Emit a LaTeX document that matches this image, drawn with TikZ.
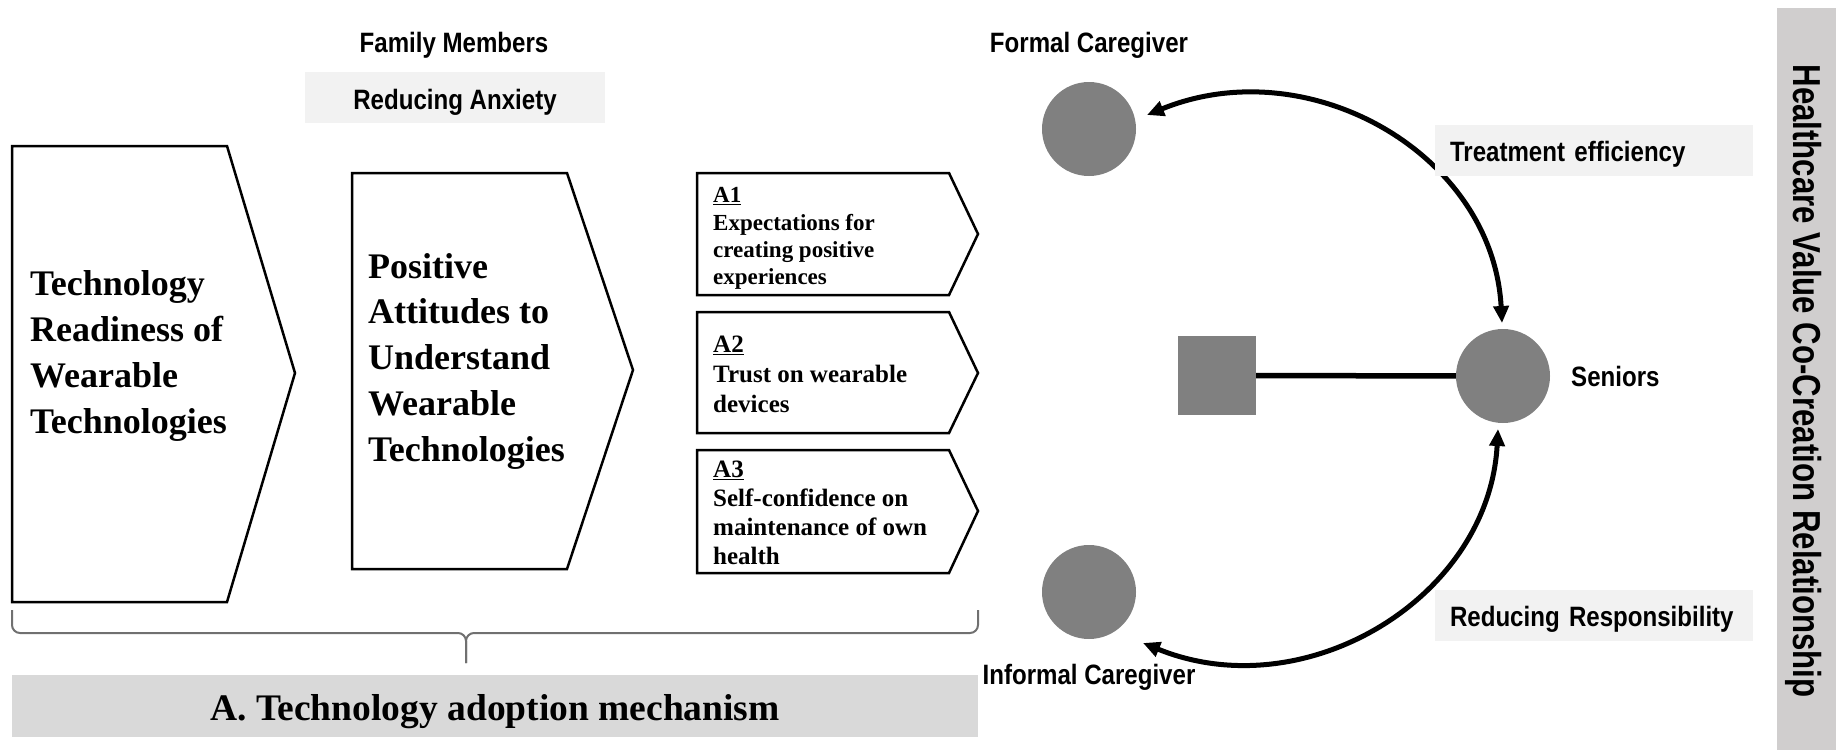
\documentclass[tikz,border=0pt]{standalone}
\usepackage{fontspec}
\setmainfont{Liberation Serif}
\newfontfamily\labelfont[FakeStretch=0.86]{Liberation Sans}
\newfontfamily\barfont[FakeStretch=0.8]{Liberation Sans}
\usetikzlibrary{arrows.meta}
\definecolor{dotgray}{HTML}{808080}
\definecolor{tagfill}{HTML}{F2F2F2}
\definecolor{titlefill}{HTML}{D9D9D9}
\definecolor{barfill}{HTML}{D0CECE}
\definecolor{bracegray}{HTML}{707070}
\begin{document}
\begin{tikzpicture}[x=1pt,y=-1pt,
  outline/.style={draw=black, line width=2.5pt, line join=miter},
  bigtext/.style={font=\bfseries\fontsize{36}{45.8}\selectfont, align=left, inner sep=0pt, anchor=north west},
  smalltext/.style={align=left, inner sep=0pt, anchor=north west},
  tag/.style={font=\labelfont\bfseries\fontsize{28}{32}\selectfont, inner sep=0pt},
  tagbox/.style={tag, fill=tagfill, minimum width=318pt, minimum height=51pt, text width=288pt,
    align=left, inner xsep=15pt, text height=22pt, text depth=0pt},
  dot/.style={circle, fill=dotgray, minimum size=94pt, inner sep=0pt},
  arcarrow/.style={line width=5pt, arrows={Triangle[length=17pt,width=15pt]-Triangle[length=17pt,width=15pt]}},
  bracepath/.style={draw=bracegray, line width=2pt, rounded corners=8pt}
]
\useasboundingbox (0,0) rectangle (1836,750);

% ---- process chevrons ----
\draw[outline] (12,146) -- (227,146) -- (295,373) -- (227,602) -- (12,602) -- cycle;
\node[bigtext] (readiness) at (30,270.5) {Technology\\Readiness of\\Wearable\\Technologies};

\draw[outline] (352,173) -- (567,173) -- (633,370) -- (567,569) -- (352,569) -- cycle;
\node[bigtext] (attitudes) at (368,253) {Positive\\Attitudes to\\Understand\\Wearable\\Technologies};

\draw[outline] (697,173) -- (949,173) -- (978,234) -- (949,295) -- (697,295) -- cycle;
\node[smalltext, font=\bfseries\fontsize{23}{27.3}\selectfont] (aone) at (713,187.5)
  {\underline{A1}\\Expectations for\\creating positive\\experiences};

\draw[outline] (697,312) -- (949,312) -- (978,373) -- (949,433) -- (697,433) -- cycle;
\node[smalltext, font=\bfseries\fontsize{25}{30}\selectfont] (atwo) at (713,336)
  {\underline{A2}\\Trust on wearable\\devices};

\draw[outline] (697,450) -- (949,450) -- (978,511) -- (949,573) -- (697,573) -- cycle;
\node[smalltext, font=\bfseries\fontsize{25}{29}\selectfont] (athree) at (713,461)
  {\underline{A3}\\Self-confidence on\\maintenance of own\\health};

% ---- brace and mechanism title ----
\draw[bracepath] (12,610) -- (12,633) -- (466,633) -- (466,663);
\draw[bracepath] (978,610) -- (978,633) -- (466,633) -- (466,663);
\fill[titlefill] (12,675) rectangle (978,737);
\node[font=\bfseries\fontsize{37.5}{40}\selectfont, anchor=base, inner sep=0pt] (mechanism) at (495,720)
  {A. Technology adoption mechanism};

% ---- family members ----
\node[tag, anchor=base] (family) at (454,52) {Family Members};
\node[tag, fill=tagfill, minimum width=300pt, minimum height=51pt, text height=24pt, text depth=0pt] (anxiety) at (455,97.5) {Reducing Anxiety};

% ---- caregivers and seniors ----
\node[tag, anchor=base] (formallbl) at (1089,52) {Formal Caregiver};
\node[dot] (formal) at (1089,129) {};
\node[dot] (informal) at (1089,592) {};
\node[tag, anchor=base] (informallbl) at (1089,684) {Informal Caregiver};
\node[dot] (seniors) at (1503,376) {};
\node[tag, anchor=base west] (seniorslbl) at (1571,386) {Seniors};
\node[fill=dotgray, minimum width=78pt, minimum height=79pt, inner sep=0pt] (device) at (1217,375.5) {};

\draw[line width=5.5pt] (device) -- (seniors);

\draw[arcarrow] ([shift={(58,-14)}]formal.center) .. controls +(162,-66) and +(-9,-169) .. ([shift={(-1,-53)}]seniors.center);
\draw[arcarrow] ([shift={(54,51)}]informal.center) .. controls +(162,66) and +(-9,169) .. ([shift={(-5,53)}]seniors.center);

\node[tagbox] (efficiency) at (1594,150.5) {Treatment efficiency};
\node[tagbox] (responsibility) at (1594,615) {Reducing Responsibility};

% ---- side bar ----
\fill[barfill] (1777,8) rectangle (1836,750);
\node[rotate=-90, anchor=base, inner sep=0pt, font=\barfont\bfseries\fontsize{39}{44}\selectfont] (cocreation) at (1793,381)
  {Healthcare Value Co-Creation Relationship};
\end{tikzpicture}
\end{document}
